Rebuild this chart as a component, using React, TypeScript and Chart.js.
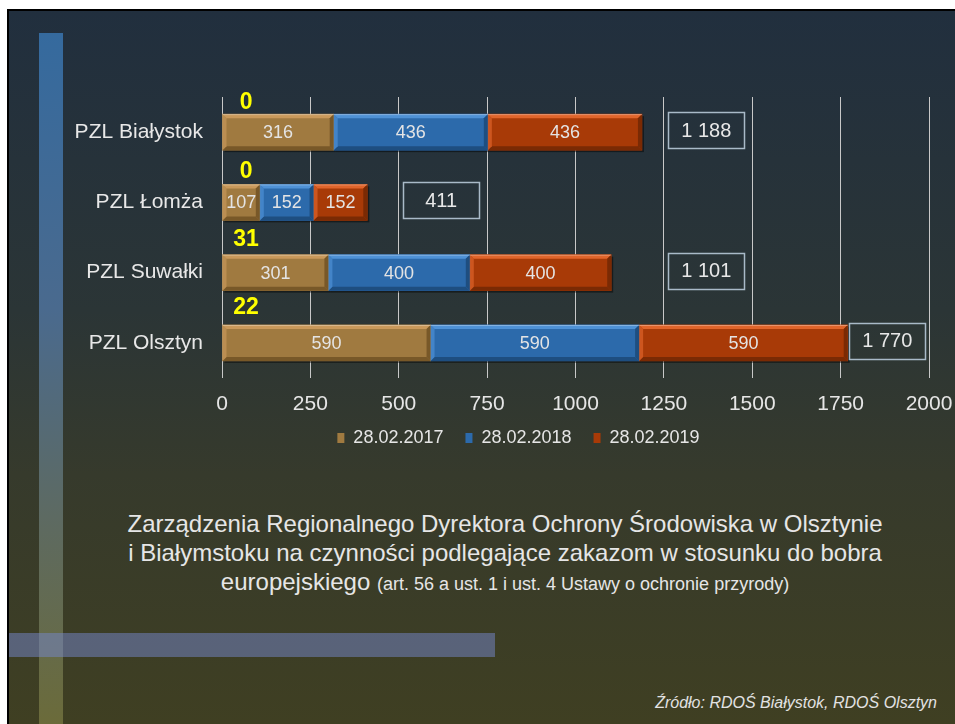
import React, { useEffect, useRef } from "react";
import { Chart, registerables } from "chart.js";

Chart.register(...registerables);

const FONT = '"Liberation Sans", Arial, Helvetica, sans-serif';

// ---- data ----
const categories = ["PZL Białystok", "PZL Łomża", "PZL Suwałki", "PZL Olsztyn"];
const seriesNames = ["28.02.2017", "28.02.2018", "28.02.2019"];
const values2017 = [316, 107, 301, 590];
const values2018 = [436, 152, 400, 590];
const values2019 = [436, 152, 400, 590];
const extraLabels = ["0", "0", "31", "22"];
const totalLabels = ["1 188", "411", "1 101", "1 770"];
const totalLabelAt = [1370, 620, 1370, 1882];
const extraLabelAt = 68;
const xMin = 0;
const xMax = 2000;
const xStep = 250;

const seriesFill = ["#a07a40", "#2c6aab", "#a83a07"];
const seriesLight = ["#c9995b", "#4f92d6", "#e0652b"];
const seriesDark = ["#785828", "#1e4e80", "#7a2a04"];

export default function App() {
  const ref = useRef<HTMLCanvasElement | null>(null);

  useEffect(() => {
    const canvas = ref.current;
    if (!canvas) return;

    const bevelPlugin = {
      id: "bevel",
      beforeDatasetsDraw(chart: any) {
        const ctx = chart.ctx;
        ctx.save();
        chart.data.datasets.forEach((_: any, di: number) => {
          const meta = chart.getDatasetMeta(di);
          meta.data.forEach((el: any) => {
            const p = el.getProps(["x", "y", "base", "height"], true);
            const l = Math.min(p.x, p.base);
            const r = Math.max(p.x, p.base);
            const t = p.y - p.height / 2;
            ctx.fillStyle = "rgba(0,0,0,0.45)";
            ctx.fillRect(l + 2, t + 2, r - l, p.height);
          });
        });
        ctx.restore();
      },
      afterDatasetsDraw(chart: any) {
        const ctx = chart.ctx;
        ctx.save();
        const b = 4;
        chart.data.datasets.forEach((ds: any, di: number) => {
          const meta = chart.getDatasetMeta(di);
          meta.data.forEach((el: any, i: number) => {
            const p = el.getProps(["x", "y", "base", "height"], true);
            const l = Math.min(p.x, p.base);
            const r = Math.max(p.x, p.base);
            const t = p.y - p.height / 2;
            const bt = p.y + p.height / 2;
            const poly = (pts: number[][], c: string) => {
              ctx.beginPath();
              ctx.moveTo(pts[0][0], pts[0][1]);
              for (let k = 1; k < pts.length; k++) ctx.lineTo(pts[k][0], pts[k][1]);
              ctx.closePath();
              ctx.fillStyle = c;
              ctx.fill();
            };
            poly([[l, t], [r, t], [r - b, t + b], [l + b, t + b]], seriesLight[di]);
            poly([[l, bt], [r, bt], [r - b, bt - b], [l + b, bt - b]], seriesDark[di]);
            poly([[l, t], [l + b, t + b], [l + b, bt - b], [l, bt]], seriesLight[di] + "aa");
            poly([[r, t], [r - b, t + b], [r - b, bt - b], [r, bt]], seriesDark[di]);
            ctx.fillStyle = "rgba(255,255,255,0.35)";
            ctx.fillRect(l, t, r - l, 1);
            ctx.fillStyle = "#e4e4e4";
            ctx.font = `18px ${FONT}`;
            ctx.textAlign = "center";
            ctx.textBaseline = "middle";
            ctx.fillText(String(ds.data[i]), (l + r) / 2, p.y + 1);
          });
        });
        ctx.restore();
      },
      afterDraw(chart: any) {
        const ctx = chart.ctx;
        const xs = chart.scales.x;
        const ys = chart.scales.y;
        ctx.save();
        categories.forEach((_, i) => {
          const cy = ys.getPixelForValue(i);
          const cx = xs.getPixelForValue(totalLabelAt[i]);
          const by = cy - 2;
          ctx.strokeStyle = "#a9bac8";
          ctx.lineWidth = 1.5;
          ctx.strokeRect(Math.round(cx - 38) + 0.5, Math.round(by - 18) + 0.5, 76, 36);
          ctx.fillStyle = "#e8e8e8";
          ctx.font = `20px ${FONT}`;
          ctx.textAlign = "center";
          ctx.textBaseline = "middle";
          ctx.fillText(totalLabels[i], cx, by + 1);
          ctx.fillStyle = "#ffff00";
          ctx.font = `bold 23px ${FONT}`;
          ctx.fillText(extraLabels[i], xs.getPixelForValue(extraLabelAt), cy - (29 + 2.2 * i));
        });
        ctx.restore();
      },
    };

    const legendShift = {
      id: "legendShift",
      beforeDraw(chart: any) {
        const lg = chart.legend;
        if (!lg) return;
        const w = lg.right - lg.left;
        const h = lg.bottom - lg.top;
        lg.left = 518.5 - w / 2;
        lg.right = 518.5 + w / 2;
        lg.top = 407;
        lg.bottom = 407 + h;
      },
    };

    const chart = new Chart(canvas, {
      type: "bar",
      data: {
        labels: categories,
        datasets: [
          { label: seriesNames[0], data: values2017, backgroundColor: seriesFill[0], borderWidth: 0 },
          { label: seriesNames[1], data: values2018, backgroundColor: seriesFill[1], borderWidth: 0 },
          { label: seriesNames[2], data: values2019, backgroundColor: seriesFill[2], borderWidth: 0 },
        ],
      },
      options: {
        indexAxis: "y",
        responsive: false,
        animation: false,
        layout: { padding: { top: 97, right: 26, left: 0, bottom: 0 } },
        datasets: { bar: { barThickness: 36 } },
        scales: {
          x: {
            type: "linear",
            stacked: true,
            min: xMin,
            max: xMax,
            ticks: {
              stepSize: xStep,
              color: "#e6e6e6",
              font: { family: FONT, size: 21 },
              padding: 14,
              callback: (v: any) => String(v),
            },
            grid: { color: "#c8c8c8", lineWidth: 1, drawTicks: false },
            border: { display: false },
            afterFit: (s: any) => {
              s.height = 42;
              s.paddingLeft = 0;
              s.paddingRight = 0;
            },
          },
          y: {
            type: "category",
            stacked: true,
            ticks: {
              color: "#e8e8e8",
              font: { family: FONT, size: 21 },
              padding: 19,
            },
            grid: { display: false, drawTicks: false },
            border: { display: false },
            afterFit: (s: any) => {
              s.width = 222;
              s.paddingTop = 0;
              s.paddingBottom = 0;
            },
          },
        },
        plugins: {
          legend: {
            position: "bottom",
            labels: {
              color: "#e6e6e6",
              font: { family: FONT, size: 18 },
              boxWidth: 7,
              boxHeight: 10,
              padding: 22,
            },
          },
          tooltip: { enabled: false },
        },
      } as any,
      plugins: [bevelPlugin, legendShift],
    });

    return () => chart.destroy();
  }, []);

  return (
    <div
      style={{
        position: "fixed",
        left: 0,
        top: 0,
        width: 955,
        height: 724,
        overflow: "hidden",
        background: "#ffffff",
        fontFamily: FONT,
      }}
    >
      <div
        style={{
          position: "absolute",
          left: 7,
          top: 9,
          right: 0,
          bottom: 0,
          borderLeft: "2px solid #000",
          borderTop: "2px solid #000",
          background: "linear-gradient(to bottom, #212f3e 0%, #2b3536 42%, #363a2c 65%, #3f3f22 100%)",
        }}
      />
      <div
        style={{
          position: "absolute",
          left: 39,
          top: 33,
          width: 24,
          bottom: 0,
          background: "linear-gradient(to bottom, #356a9e 0%, #4a6a8e 40%, #5d6a62 70%, #6b6b3a 100%)",
        }}
      />
      <div
        style={{
          position: "absolute",
          left: 9,
          top: 633,
          width: 486,
          height: 24,
          background: "rgba(118,136,206,0.5)",
        }}
      />
      <canvas
        ref={ref}
        width={955}
        height={470}
        style={{ position: "absolute", left: 0, top: 0, width: 955, height: 470 }}
      />
      <div
        style={{
          position: "absolute",
          left: 105,
          top: 509,
          width: 800,
          textAlign: "center",
          color: "#e6e6e6",
          fontSize: 24,
          lineHeight: "29px",
        }}
      >
        Zarządzenia Regionalnego Dyrektora Ochrony Środowiska w Olsztynie
        <br />
        i Białymstoku na czynności podlegające zakazom w stosunku do bobra
        <br />
        europejskiego <span style={{ fontSize: 18 }}>(art. 56 a ust. 1 i ust. 4 Ustawy o ochronie przyrody)</span>
      </div>
      <div
        style={{
          position: "absolute",
          right: 18,
          top: 694,
          color: "#e2e2e2",
          fontSize: 16,
          fontStyle: "italic",
          whiteSpace: "nowrap",
        }}
      >
        Źródło: RDOŚ Białystok, RDOŚ Olsztyn
      </div>
    </div>
  );
}
